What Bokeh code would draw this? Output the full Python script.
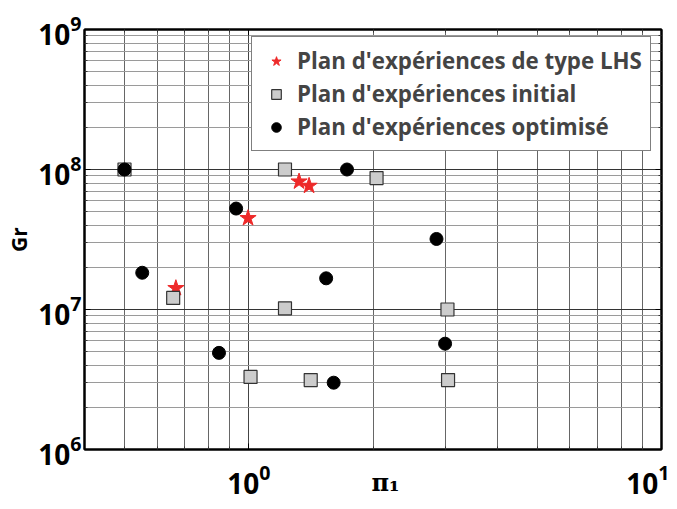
import math
from bokeh.plotting import figure
from bokeh.models import FixedTicker, LogAxis, Legend, LegendItem, Range1d
from bokeh.embed import file_html
from bokeh.resources import INLINE

# ---- data ----
lhs_pi1 = [0.666, 0.996, 1.324, 1.40]
lhs_gr = [1.42e7, 4.49e7, 8.2e7, 7.64e7]

init_pi1 = [0.5, 0.656, 1.224, 1.01, 1.224, 1.413, 2.04, 3.03, 3.04]
init_gr = [1.0e8, 1.21e7, 1.0e8, 3.3e6, 1.02e7, 3.13e6, 8.68e7, 1.0e7, 3.13e6]

opt_pi1 = [0.5, 0.552, 0.932, 0.847, 1.54, 1.606, 1.73, 2.85, 2.99]
opt_gr = [1.0e8, 1.83e7, 5.26e7, 4.9e6, 1.67e7, 3.0e6, 1.0e8, 3.19e7, 5.7e6]

x_range_vals = (0.4, 10.0)
y_range_vals = (1e6, 1e9)
x_major = [1, 10]
x_minor = [0.4, 0.5, 0.6, 0.7, 0.8, 0.9, 2, 3, 4, 5, 6, 7, 8, 9]
y_major = [1e6, 1e7, 1e8, 1e9]
y_minor = [m * 10 ** d for d in (6, 7, 8) for m in range(2, 10)]

legend_labels = ["Plan d'expériences de type LHS",
                 "Plan d'expériences initial",
                 "Plan d'expériences optimisé"]
x_title = "\u00a0\u00a0\u00a0π₁"
y_title = "Gr"

FONT = "Open Sans"

p = figure(width=669, height=501, x_axis_type="log", y_axis_type="log",
           x_range=Range1d(*x_range_vals), y_range=Range1d(*y_range_vals),
           output_backend="svg", toolbar_location=None,
           min_border_left=84, min_border_right=8, min_border_top=29, min_border_bottom=52)
p.background_fill_color = "white"
p.border_fill_color = "white"
p.outline_line_color = "black"
p.outline_line_width = 2

xt = FixedTicker(ticks=x_major, minor_ticks=x_minor)
yt = FixedTicker(ticks=y_major, minor_ticks=y_minor)

def style_axis(ax, show_labels):
    if show_labels:
        ax.major_label_text_font = FONT
        ax.major_label_text_font_style = "bold"
        ax.major_label_text_font_size = "28px"
        ax.major_label_text_color = "black"
    else:
        ax.major_label_text_font_size = "1px"
        ax.major_label_text_color = None
        ax.major_label_standoff = 0
    ax.axis_line_width = 2
    ax.major_tick_in = 6
    ax.major_tick_out = 0
    ax.minor_tick_in = 3
    ax.minor_tick_out = 0
    ax.major_tick_line_color = "black"
    ax.minor_tick_line_color = "#333333"

for ax in p.xaxis + p.yaxis:
    style_axis(ax, True)
p.xaxis.ticker = xt
p.yaxis.ticker = yt
p.xaxis.major_label_standoff = 14
p.yaxis.major_label_standoff = 3

p.yaxis.axis_label = y_title
p.yaxis.axis_label_text_font = FONT
p.yaxis.axis_label_text_font_style = "bold"
p.yaxis.axis_label_text_font_size = "21px"
p.yaxis.axis_label_text_color = "black"
p.yaxis.axis_label_standoff = 2

p.xaxis.axis_label = x_title
p.xaxis.axis_label_text_font = "DejaVu Serif"
p.xaxis.axis_label_text_font_style = "bold"
p.xaxis.axis_label_text_font_size = "24px"
p.xaxis.axis_label_text_color = "black"
p.xaxis.axis_label_standoff = -29

top = LogAxis(ticker=xt)
right = LogAxis(ticker=yt)
style_axis(top, False)
style_axis(right, False)
p.add_layout(top, "above")
p.add_layout(right, "right")

p.xgrid.ticker = xt
p.ygrid.ticker = yt
p.xgrid.grid_line_color = "#444444"
p.xgrid.minor_grid_line_color = "#666666"
p.ygrid.grid_line_color = "#333333"
p.ygrid.minor_grid_line_color = "#9a9a9a"
p.xgrid.grid_line_width = 1
p.ygrid.grid_line_width = 1.2
p.ygrid.minor_grid_line_width = 1.2

r_lhs = p.scatter(lhs_pi1, lhs_gr, marker="star", size=17, fill_color="#ee2a2a",
                  line_color="#ee2a2a")
r_init = p.scatter(init_pi1, init_gr, marker="square", size=13, fill_color="#cccccc",
                   line_color="#333333", line_width=1.2)
r_opt = p.scatter(opt_pi1, opt_gr, marker="circle", size=13, fill_color="black",
                  line_color="black")

legend = Legend(items=[LegendItem(label=legend_labels[0], renderers=[r_lhs]),
                       LegendItem(label=legend_labels[1], renderers=[r_init]),
                       LegendItem(label=legend_labels[2], renderers=[r_opt])],
                location=(167, 298), padding=8, spacing=2, glyph_width=32, glyph_height=24,
                label_height=24, label_standoff=5, margin=0,
                border_line_color="black", border_line_width=1.5,
                label_text_font=FONT, label_text_font_style="bold", label_text_font_size="22.3px",
                background_fill_color="white", background_fill_alpha=1)
p.add_layout(legend, "center")

open("out.html", "w").write(file_html(p, INLINE))
